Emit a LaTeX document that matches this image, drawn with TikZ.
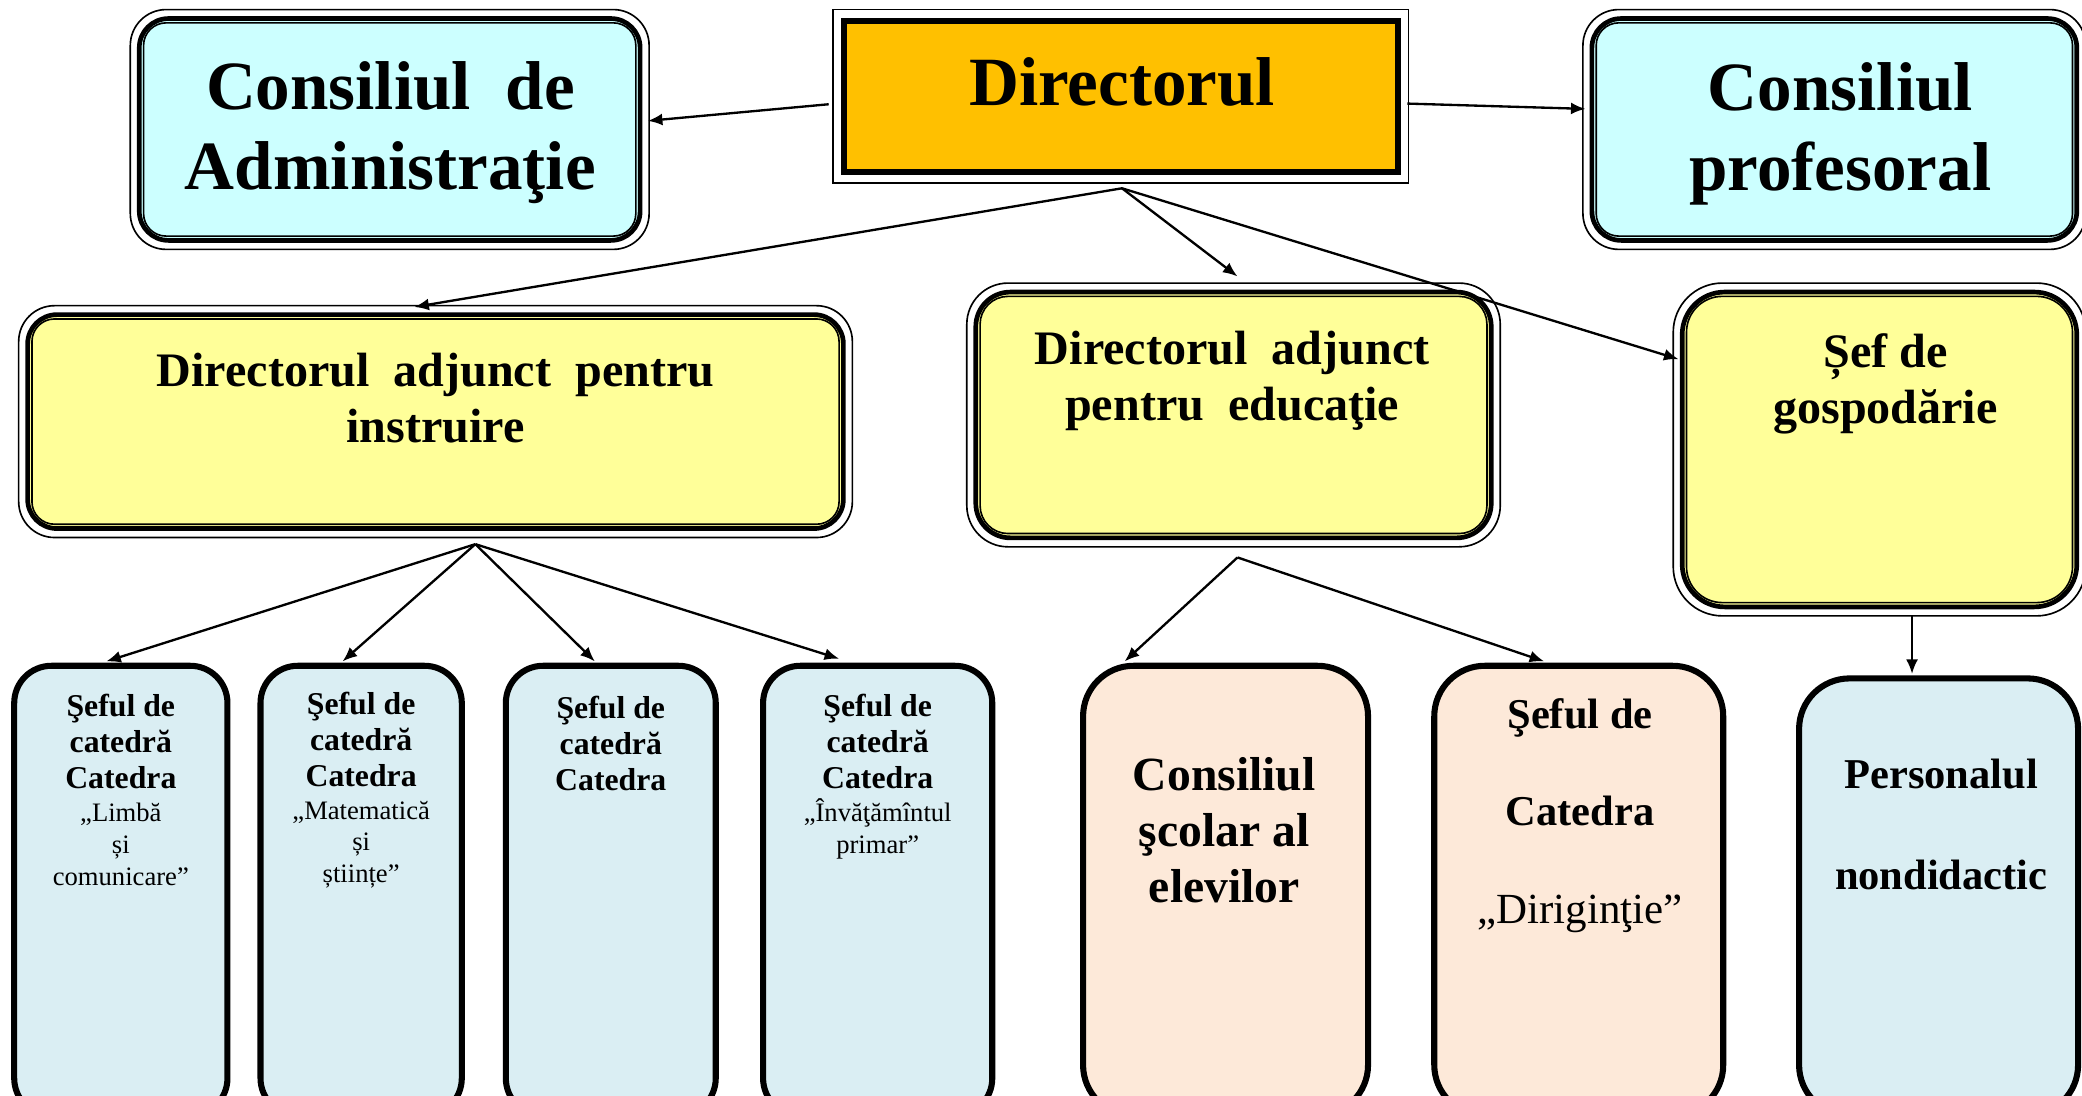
\documentclass[tikz,border=0pt]{standalone}
\usepackage{fontspec}
\setmainfont{Liberation Serif}
\usetikzlibrary{arrows.meta}
\definecolor{dirorange}{HTML}{FFC000}
\definecolor{councilcyan}{HTML}{CCFFFF}
\definecolor{deputyyellow}{HTML}{FFFF99}
\definecolor{chairblue}{HTML}{DAEEF3}
\definecolor{pupilpeach}{HTML}{FDE9D9}
\newcommand{\catfont}{\normalfont\fontsize{5.7}{6.8}\selectfont}
\newcommand{\dirigfont}{\normalfont\fontsize{9.2}{20.9}\selectfont}
\tikzstyle{dirblock} = [rectangle, draw, line width=1pt, fill=dirorange, inner sep=0pt]
\tikzstyle{councilblock} = [rectangle, draw, line width=1pt, fill=councilcyan,
    rounded corners=0.22cm, inner sep=0pt]
\tikzstyle{deputyblock} = [rectangle, draw, line width=1pt, fill=deputyyellow, inner sep=0pt]
\tikzstyle{chairblock} = [rectangle, draw, line width=1.3pt, fill=chairblue,
    rounded corners=0.28cm, inner sep=0pt, minimum height=3.385cm]
\tikzstyle{peachblock} = [chairblock, fill=pupilpeach, rounded corners=0.38cm]
\tikzstyle{thinframe} = [draw, line width=0.35pt]
\tikzstyle{line} = [draw, line width=0.5pt, -{Latex[length=1.1mm,width=0.9mm]}]
\tikzstyle{bigtext} = [align=center, inner sep=0pt, font=\bfseries\fontsize{14.8}{17.1}\selectfont]
\tikzstyle{midtext} = [align=center, inner sep=0pt, font=\bfseries\fontsize{10.3}{12}\selectfont]
\tikzstyle{smalltext} = [align=center, inner sep=0pt, font=\bfseries\fontsize{6.8}{7.7}\selectfont]
\tikzstyle{pupiltext} = [align=center, inner sep=0pt, font=\bfseries\fontsize{10.2}{12}\selectfont]
\tikzstyle{widetext} = [align=center, inner sep=0pt, font=\bfseries\fontsize{9.1}{20.9}\selectfont]
\begin{document}
\begin{tikzpicture}[x=0.01cm, y=-0.01cm]
    \useasboundingbox (0,0) rectangle (1568,825.4);
    % Place nodes
    \node [dirblock, minimum width=4.18cm, minimum height=1.15cm] (director) at (844,72.5) {};
    \node [councilblock, minimum width=3.77cm, minimum height=1.67cm] (admin) at (293.5,97.5) {};
    \node [councilblock, minimum width=3.65cm, minimum height=1.67cm] (prof) at (1381.5,97.5) {};
    \node [deputyblock, rounded corners=0.22cm, minimum width=6.14cm, minimum height=1.61cm] (instr) at (328,317.5) {};
    \node [deputyblock, rounded corners=0.26cm, minimum width=3.88cm, minimum height=1.85cm] (educ) at (929,312.5) {};
    \node [deputyblock, rounded corners=0.32cm, minimum width=2.97cm, minimum height=2.37cm] (gosp) at (1415.5,338.5) {};
    \node [chairblock, minimum width=1.605cm] (limba) at (91,670.75) {};
    \node [chairblock, minimum width=1.515cm] (mate) at (272,670.75) {};
    \node [chairblock, minimum width=1.58cm] (catedra) at (460,670.75) {};
    \node [chairblock, minimum width=1.725cm] (primar) at (661,670.75) {};
    \node [peachblock, minimum width=2.145cm] (elevi) at (923,670.75) {};
    \node [peachblock, minimum width=2.175cm] (dirig) at (1189,670.75) {};
    \node [chairblock, rounded corners=0.38cm, minimum width=2.10cm, minimum height=3.29cm] (nondid) at (1460,675.5) {};
    % Thin outer and inner frames
    \draw [thinframe] ([shift={(-6,-6)}]director.north west) rectangle ([shift={(6,6)}]director.south east);
    \draw [thinframe] ([shift={(4,4)}]director.north west) rectangle ([shift={(-4,-4)}]director.south east);
    \foreach \n/\ro/\ri in {admin/0.27/0.17, prof/0.27/0.17, instr/0.27/0.17, educ/0.31/0.21, gosp/0.37/0.27} {
        \draw [thinframe, rounded corners=\ro cm] ([shift={(-5,-5)}]\n.north west) rectangle ([shift={(5,5)}]\n.south east);
        \draw [thinframe, rounded corners=\ri cm] ([shift={(5,5)}]\n.north west) rectangle ([shift={(-5,-5)}]\n.south east);
    }
    % Texts
    \node [bigtext] (dirtext) at (845,62) {Directorul};
    \node [bigtext] (admintext) at (294,100) {Consiliul~~de\\Administraţie};
    \node [bigtext] (proftext) at (1386,101) {Consiliul\\profesoral};
    \node [midtext] (instrtext) at (328,300) {Directorul~~adjunct~~pentru\\instruire};
    \node [midtext] (eductext) at (928,287) {Directorul~~adjunct\\pentru~~educaţie};
    \node [midtext] (gosptext) at (1420,289) {Șef de\\gospodărie};
    \node [smalltext] (limbatext) at (91,595) {Şeful de\\catedră\\Catedra\\[-0.6pt]\catfont „Limbă\\[-0.9pt]\catfont și\\[-0.9pt]\catfont comunicare”};
    \node [smalltext] (matetext) at (272,595) {Şeful de\\catedră\\Catedra\\[-0.6pt]\catfont „Matematică\\[-0.9pt]\catfont și\\[-0.9pt]\catfont științe”};
    \node [smalltext] (catedratext) at (460,560) {Şeful de\\catedră\\Catedra};
    \node [smalltext] (primartext) at (661,585) {Şeful de\\catedră\\Catedra\\[-0.6pt]\catfont „Învăţămîntul\\[-0.9pt]\catfont primar”};
    \node [pupiltext] (elevitext) at (922,625) {Consiliul\\şcolar al\\elevilor};
    \node [widetext] (dirigtext) at (1190,614) {Şeful de\\Catedra\\\dirigfont „Diriginţie”};
    \node [widetext] (nondidtext) at (1462,621) {Personalul\\[0.7pt]nondidactic};
    % Draw edges
    \path [line] ([shift={(-9,6)}]director.west) -- ([shift={(4,-6.5)}]admin.east);
    \path [line] ([shift={(5,5.5)}]director.east) -- ([shift={(-3,-15.5)}]prof.west);
    \coordinate (dirfork) at ([shift={(1,10)}]director.south);
    \path [line] (dirfork) -- ([shift={(-16,-4)}]instr.north);
    \path [line] (dirfork) -- ([shift={(3,-10)}]educ.north);
    \path [line] (dirfork) -- ([shift={(-1,-68)}]gosp.west);
    \coordinate (instrfork) at ([shift={(30,10)}]instr.south);
    \path [line] (instrfork) -- ([shift={(-11,-1)}]limba.north);
    \path [line] (instrfork) -- ([shift={(-14,-1)}]mate.north);
    \path [line] (instrfork) -- ([shift={(-12,-1)}]catedra.north);
    \path [line] (instrfork) -- ([shift={(-29,-3)}]primar.north);
    \coordinate (educfork) at ([shift={(3,13)}]educ.south);
    \path [line] (educfork) -- ([shift={(-76,-1)}]elevi.north);
    \path [line] (educfork) -- ([shift={(-26,-1)}]dirig.north);
    \path [line] ([shift={(24.5,5)}]gosp.south) -- ([shift={(-20,-1)}]nondid.north);
\end{tikzpicture}
\end{document}
